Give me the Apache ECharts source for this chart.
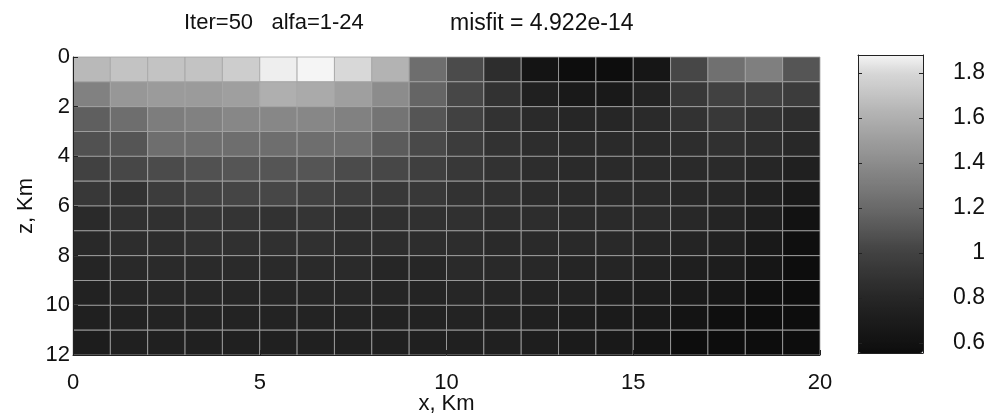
<!DOCTYPE html>
<html><head><meta charset="utf-8">
<script src="https://cdn.jsdelivr.net/npm/echarts@6/dist/echarts.min.js"></script>
<style>html,body{margin:0;padding:0;background:#fff}#c{width:1001px;height:414px}</style>
</head><body><div id="c"></div>
<script>
// cell left edges along x (km) and top edges along z (km); each cell 1 km x 1 km
const xCells = [0,1,2,3,4,5,6,7,8,9,10,11,12,13,14,15,16,17,18,19];
const zCells = [0,1,2,3,4,5,6,7,8,9,10,11];
// values per row (z), columns x = 0..19
const row0  = [1.65,1.70,1.70,1.70,1.75,1.86,1.88,1.80,1.62,1.23,1.05,0.85,0.62,0.56,0.56,0.64,1.03,1.24,1.33,1.10];
const row1  = [1.34,1.46,1.49,1.49,1.51,1.60,1.57,1.51,1.40,1.18,1.03,0.89,0.74,0.67,0.67,0.77,0.93,1.00,1.00,0.96];
const row2  = [1.15,1.23,1.31,1.34,1.37,1.37,1.37,1.34,1.26,1.10,1.00,0.89,0.83,0.80,0.80,0.83,0.89,0.93,0.89,0.85];
const row3  = [1.08,1.10,1.23,1.23,1.23,1.23,1.23,1.23,1.13,1.04,0.96,0.89,0.85,0.83,0.83,0.83,0.85,0.87,0.85,0.81];
const row4  = [1.00,1.03,1.05,1.08,1.10,1.10,1.10,1.05,1.03,0.98,0.93,0.89,0.85,0.83,0.83,0.83,0.83,0.83,0.80,0.74];
const row5  = [0.93,0.89,0.96,1.00,1.02,1.03,1.00,0.96,0.93,0.93,0.89,0.87,0.84,0.83,0.83,0.83,0.81,0.80,0.74,0.67];
const row6  = [0.83,0.87,0.87,0.90,0.90,0.89,0.90,0.87,0.87,0.87,0.87,0.85,0.85,0.83,0.83,0.83,0.81,0.78,0.72,0.60];
const row7  = [0.82,0.85,0.85,0.87,0.87,0.87,0.87,0.85,0.85,0.85,0.85,0.83,0.83,0.82,0.82,0.80,0.78,0.75,0.67,0.58];
const row8  = [0.79,0.82,0.83,0.83,0.83,0.83,0.83,0.83,0.80,0.80,0.83,0.82,0.81,0.79,0.79,0.76,0.73,0.71,0.64,0.56];
const row9  = [0.76,0.79,0.80,0.80,0.80,0.80,0.80,0.80,0.79,0.78,0.80,0.79,0.77,0.76,0.72,0.71,0.68,0.64,0.58,0.56];
const row10 = [0.74,0.76,0.77,0.77,0.77,0.77,0.77,0.77,0.76,0.76,0.77,0.76,0.74,0.71,0.69,0.67,0.62,0.58,0.56,0.56];
const row11 = [0.71,0.74,0.74,0.74,0.74,0.74,0.74,0.74,0.74,0.74,0.74,0.74,0.72,0.69,0.67,0.62,0.56,0.56,0.56,0.56];
const rows = [row0,row1,row2,row3,row4,row5,row6,row7,row8,row9,row10,row11];

const xTicks = [0,5,10,15,20];
const zTicks = [0,2,4,6,8,10,12];
const cbarTicks = [0.6,0.8,1.0,1.2,1.4,1.6,1.8];
const cbarMin = 0.556, cbarMax = 1.88;
const titleLeft = 'Iter=50   alfa=1-24';
const titleRight = 'misfit = 4.922e-14';

// printed gray ramp (value -> gray level) used to build the colormap
const rampVals = [0.556,0.6,0.8,1.0,1.2,1.4,1.6,1.8,1.88];
const rampGray = [12,18,38,65,105,140,175,215,245];
function grayAt(v){
  for(let i=0;i<rampVals.length-1;i++){
    if(v<=rampVals[i+1]){const t=(v-rampVals[i])/(rampVals[i+1]-rampVals[i]);return Math.round(rampGray[i]+t*(rampGray[i+1]-rampGray[i]));}
  }
  return rampGray[rampGray.length-1];
}
const cmap=[];
const N=60;
for(let i=0;i<=N;i++){const g=grayAt(cbarMin+(cbarMax-cbarMin)*i/N);cmap.push('rgb('+g+','+g+','+g+')');}

const cells=[];
zCells.forEach((z,zi)=>{xCells.forEach((x,xi)=>{cells.push([x,z,rows[zi][xi]]);});});

const FONT='"Liberation Sans", Arial, Helvetica, sans-serif';
const chart=echarts.init(document.getElementById('c'),null,{renderer:'canvas'});
chart.setOption({
  animation:false,
  backgroundColor:'#fff',
  textStyle:{fontFamily:FONT},
  title:[
    {text:titleLeft,left:179,top:7,textStyle:{fontFamily:FONT,fontSize:22,fontWeight:'normal',color:'#111'}},
    {text:titleRight,left:445,top:7,textStyle:{fontFamily:FONT,fontSize:23,fontWeight:'normal',color:'#111'}}
  ],
  grid:[
    {left:73,top:57,width:747,height:298,outerBoundsMode:'none',containLabel:false},
    {left:858,top:55,width:65,height:298,outerBoundsMode:'none',containLabel:false}
  ],
  xAxis:[
    {gridIndex:0,type:'value',min:0,max:20,interval:5,position:'bottom',
     name:'x, Km',nameLocation:'middle',nameGap:38,nameMoveOverlap:false,
     nameTextStyle:{fontFamily:FONT,fontSize:22,color:'#111',verticalAlign:'top'},
     axisLine:{show:true,onZero:false,lineStyle:{color:'#222',width:1}},
     axisTick:{show:true,inside:true,length:5,lineStyle:{color:'#222'}},
     axisLabel:{fontFamily:FONT,fontSize:22,color:'#111',margin:17},
     splitLine:{show:false},z:10},
    {gridIndex:1,type:'value',min:0,max:1,position:'bottom',
     axisLine:{show:true,onZero:false,lineStyle:{color:'#222'}},axisTick:{show:false},axisLabel:{show:false},splitLine:{show:false},z:10},
    {gridIndex:1,type:'value',min:0,max:1,position:'top',
     axisLine:{show:true,onZero:false,lineStyle:{color:'#222'}},axisTick:{show:false},axisLabel:{show:false},splitLine:{show:false},z:10}
  ],
  yAxis:[
    {gridIndex:0,type:'value',min:0,max:12,interval:2,inverse:true,position:'left',
     name:'z, Km',nameLocation:'middle',nameGap:36,nameRotate:90,nameMoveOverlap:false,
     nameTextStyle:{fontFamily:FONT,fontSize:22,color:'#111'},
     axisLine:{show:true,onZero:false,lineStyle:{color:'#222',width:1}},
     axisTick:{show:true,inside:true,length:5,lineStyle:{color:'#222'}},
     axisLabel:{fontFamily:FONT,fontSize:22,color:'#111',margin:3,
       formatter:v=>String(v)},
     splitLine:{show:false},z:10},
    {gridIndex:1,type:'value',min:cbarMin,max:cbarMax,position:'right',
     axisLine:{show:true,onZero:false,lineStyle:{color:'#222'}},
     axisTick:{show:true,inside:true,length:4,customValues:cbarTicks,lineStyle:{color:'#222'}},
     axisLabel:{show:true,customValues:cbarTicks,fontFamily:FONT,fontSize:23,color:'#111',align:'right',margin:62,
       formatter:v=>String(Math.round(v*10)/10)},
     splitLine:{show:false},z:10},
    {gridIndex:1,type:'value',min:cbarMin,max:cbarMax,position:'left',
     axisLine:{show:true,onZero:false,lineStyle:{color:'#222'}},
     axisTick:{show:true,inside:true,length:4,customValues:cbarTicks,lineStyle:{color:'#222'}},
     axisLabel:{show:false},splitLine:{show:false},z:10}
  ],
  visualMap:{
    type:'continuous',seriesIndex:0,dimension:2,min:cbarMin,max:cbarMax,
    calculable:false,hoverLink:false,orient:'vertical',
    left:858,top:55,itemWidth:65,itemHeight:298,padding:0,
    inRange:{color:cmap},z:2
  },
  series:[{
    type:'custom',xAxisIndex:0,yAxisIndex:0,data:cells,
    encode:{x:0,y:1},
    renderItem:function(params,api){
      const p0=api.coord([api.value(0),api.value(1)]);
      const p1=api.coord([api.value(0)+1,api.value(1)+1]);
      return {type:'rect',
        shape:{x:Math.min(p0[0],p1[0]),y:Math.min(p0[1],p1[1]),width:Math.abs(p1[0]-p0[0]),height:Math.abs(p1[1]-p0[1])},
        style:{fill:api.visual('color'),stroke:'rgba(165,165,165,0.8)',lineWidth:1}};
    }
  }]
});
</script></body></html>
